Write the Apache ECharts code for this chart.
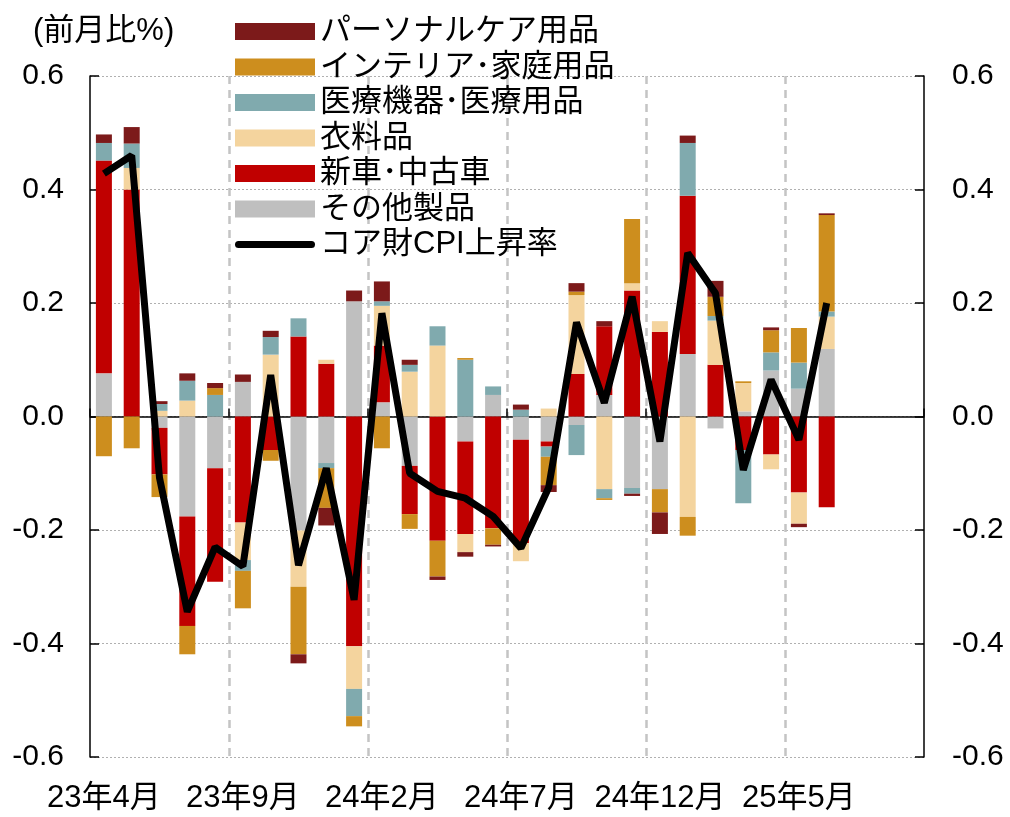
<!DOCTYPE html>
<html>
<head>
<meta charset="utf-8">
<script src="https://cdn.jsdelivr.net/npm/echarts@6/dist/echarts.min.js"></script>
<style>
html, body { margin: 0; padding: 0; background: #fff; }
#mycharts { width: 1010px; height: 817px; }
</style>
</head>
<body>
<div id="mycharts"></div>
<script>
// 月（23年4月〜25年9月）
var months = ['23年4月','23年5月','23年6月','23年7月','23年8月','23年9月','23年10月','23年11月','23年12月',
    '24年1月','24年2月','24年3月','24年4月','24年5月','24年6月','24年7月','24年8月','24年9月','24年10月','24年11月','24年12月',
    '25年1月','25年2月','25年3月','25年4月','25年5月','25年6月','25年7月','25年8月','25年9月'];

// 寄与度（前月比%）
var other    = [0.076, 0, -0.02, -0.176, -0.091, 0.061, 0, -0.201, -0.082, 0.203, 0.025, -0.087, 0, -0.044, 0.038, -0.041, -0.044, -0.015, 0.038, -0.126, -0.128, 0.11, -0.021, 0.009, 0.081, 0.049, 0.119];
var cars     = [0.375, 0.40, -0.082, -0.193, -0.20, -0.187, -0.059, 0.141, 0.093, -0.405, 0.10, -0.085, -0.219, -0.163, -0.197, -0.182, -0.009, 0.075, 0.121, 0.222, 0.149, 0.279, 0.091, -0.059, -0.067, -0.134, -0.16];
var clothes  = [0, 0.038, 0.01, 0.028, 0, -0.066, 0.109, -0.099, 0.007, -0.075, 0.07, 0.079, 0.125, -0.032, 0, -0.032, 0.014, 0.139, -0.128, 0.013, 0.019, -0.177, 0.078, 0.05, -0.026, -0.055, 0.057];
var medical  = [0.031, 0.043, 0.012, 0.035, 0.038, -0.019, 0.031, 0.032, -0.009, -0.048, 0.008, 0.012, 0.034, 0.10, 0.015, 0.012, -0.018, -0.053, -0.016, -0.01, 0, 0.093, 0.008, -0.094, 0.032, 0.046, 0.009];
var interior = [-0.07, -0.056, -0.04, -0.05, 0.012, -0.066, -0.019, -0.119, -0.07, -0.018, -0.056, -0.026, -0.063, 0.003, -0.029, 0, -0.05, 0.006, -0.003, 0.113, -0.041, -0.033, 0.034, 0.003, 0.039, 0.061, 0.17];
var personal = [0.015, 0.029, 0.005, 0.013, 0.009, 0.013, 0.011, -0.016, -0.031, 0.019, 0.035, 0.009, -0.006, -0.008, -0.003, 0.009, -0.012, 0.015, 0.009, -0.004, -0.038, 0.013, 0.028, 0, 0.005, -0.006, 0.003];
var coreGoods = [0.428, 0.46, -0.108, -0.344, -0.23, -0.264, 0.073, -0.262, -0.091, -0.323, 0.182, -0.10, -0.132, -0.144, -0.176, -0.232, -0.125, 0.166, 0.024, 0.211, -0.044, 0.288, 0.217, -0.094, 0.065, -0.041, 0.20];

var fontFamily = "'Liberation Sans', 'Noto Sans CJK JP', sans-serif";

function bar(name, data, color) {
    return {
        name: name,
        type: 'bar',
        stack: 'total',
        barWidth: 16,
        data: data,
        itemStyle: { color: color }
    };
}

var myChart = echarts.init(document.getElementById('mycharts'));
var option = {
    animation: false,
    textStyle: { fontFamily: fontFamily, color: '#000' },
    title: {
        text: '(前月比%)',
        left: 28,
        top: 11,
        textStyle: { fontSize: 31, fontWeight: 'normal', color: '#000', fontFamily: fontFamily }
    },
    legend: {
        orient: 'vertical',
        left: 230,
        top: 11,
        itemWidth: 80,
        itemHeight: 17,
        itemGap: 4.5,
        textStyle: { fontSize: 31, lineHeight: 31, color: '#000', fontFamily: fontFamily },
        data: [
            { name: 'パーソナルケア用品', icon: 'rect' },
            { name: 'インテリア･家庭用品', icon: 'rect' },
            { name: '医療機器･医療用品', icon: 'rect' },
            { name: '衣料品', icon: 'rect' },
            { name: '新車･中古車', icon: 'rect' },
            { name: 'その他製品', icon: 'rect' },
            { name: 'コア財CPI上昇率', icon: 'path://M3.5,0H76.5A3.5,3.5,0,0,1,76.5,7H3.5A3.5,3.5,0,0,1,3.5,0Z' }
        ]
    },
    grid: { left: 90, right: 86, top: 76, bottom: 60 },
    xAxis: [{
        type: 'category',
        data: months,
        position: 'bottom',
        axisLine: { show: false, onZero: false },
        axisTick: { show: false },
        axisLabel: { interval: 4, margin: 26, fontSize: 31, color: '#000', fontFamily: fontFamily },
        splitLine: {
            show: true,
            interval: 4,
            showMinLine: false,
            showMaxLine: false,
            lineStyle: { color: '#c4c4c4', width: 2.5, type: [8, 6] }
        }
    }, {
        type: 'category',
        data: months,
        position: 'top',
        axisLine: { show: true, onZero: true, lineStyle: { color: '#000', width: 1.5 } },
        axisTick: { show: true, inside: false, interval: 4, length: 8, lineStyle: { color: '#000', width: 1.5 } },
        axisLabel: { show: false },
        splitLine: { show: false }
    }],
    yAxis: [{
        type: 'value',
        min: -0.6,
        max: 0.6,
        interval: 0.2,
        position: 'left',
        axisLine: { show: true, lineStyle: { color: '#000', width: 1.5 } },
        axisTick: { show: true, inside: true, length: 9, lineStyle: { color: '#000', width: 1.5 } },
        axisLabel: {
            margin: 26, fontSize: 30, color: '#000', fontFamily: fontFamily,
            formatter: function (v) { return v.toFixed(1); }
        },
        splitLine: { show: true, lineStyle: { color: '#b0b0b0', width: 1, type: [2, 2] } }
    }, {
        type: 'value',
        min: -0.6,
        max: 0.6,
        interval: 0.2,
        position: 'right',
        axisLine: { show: true, lineStyle: { color: '#000', width: 1.5 } },
        axisTick: { show: true, inside: true, length: 9, lineStyle: { color: '#000', width: 1.5 } },
        axisLabel: {
            margin: 28, fontSize: 30, color: '#000', fontFamily: fontFamily,
            formatter: function (v) { return v.toFixed(1); }
        },
        splitLine: { show: false }
    }],
    series: [
        bar('その他製品', other, '#bfbfbf'),
        bar('新車･中古車', cars, '#c00000'),
        bar('衣料品', clothes, '#f4d49e'),
        bar('医療機器･医療用品', medical, '#80aaae'),
        bar('インテリア･家庭用品', interior, '#cd8e1e'),
        bar('パーソナルケア用品', personal, '#7c1a1a'),
        {
            name: 'コア財CPI上昇率',
            type: 'line',
            data: coreGoods,
            z: 5,
            symbol: 'none',
            showSymbol: false,
            itemStyle: { color: '#000' },
            lineStyle: { color: '#000', width: 7 }
        }
    ]
};

myChart.setOption(option);
</script>
</body>
</html>
